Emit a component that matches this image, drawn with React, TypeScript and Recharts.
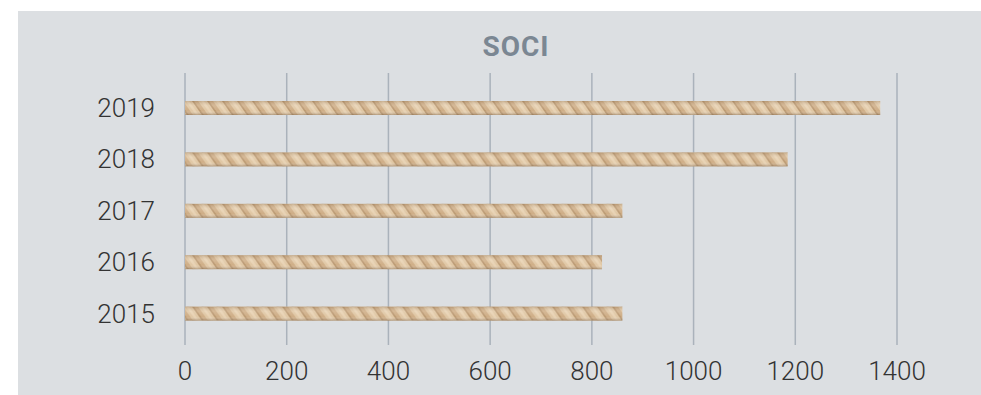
import { BarChart, Bar, XAxis, YAxis, CartesianGrid } from 'recharts'

const years = ['2015', '2016', '2017', '2018', '2019']
const soci = [860, 820, 860, 1185, 1367]
const xTicks = [0, 200, 400, 600, 800, 1000, 1200, 1400]
const title = 'SOCI'

const data = years.map((y, i) => ({ year: y, soci: soci[i] }))

// rope-like fill: soft diagonal strands + vertical shading
function RopeBar(props: any) {
  const { x, y, width, height, index } = props
  if (!width || width <= 0) return null
  const id = `rope-${index}`
  const p = 15
  const s = 10
  const strands = [-p, 0, p].map((o) => (
    <g key={o}>
      <path d={`M${o - 2} 0 L${o + 7} 0 L${o + 7 + s} ${height} L${o - 2 + s} ${height} Z`} fill="#e0c7a4" />
      <path d={`M${o + 1} 0 L${o + 4} 0 L${o + 4 + s} ${height} L${o + 1 + s} ${height} Z`} fill="#ecd9bd" opacity={0.6} />
      <path d={`M${o + 7} 0 L${o + 9} 0 L${o + 9 + s} ${height} L${o + 7 + s} ${height} Z`} fill="#a9865f" opacity={0.55} />
    </g>
  ))
  return (
    <g>
      <defs>
        <pattern id={id} patternUnits="userSpaceOnUse" x={x} y={y} width={p} height={height}>
          <rect width={p} height={height} fill="#cfae87" />
          {strands}
        </pattern>
        <linearGradient id={`shade-${index}`} x1="0" y1="0" x2="0" y2="1">
          <stop offset="0%" stopColor="#7d5f3f" stopOpacity={0.3} />
          <stop offset="35%" stopColor="#ffffff" stopOpacity={0.12} />
          <stop offset="70%" stopColor="#ffffff" stopOpacity={0} />
          <stop offset="100%" stopColor="#6b5034" stopOpacity={0.45} />
        </linearGradient>
      </defs>
      <rect x={x} y={y} width={width} height={height} fill={`url(#${id})`} />
      <rect x={x} y={y} width={width} height={height} fill={`url(#shade-${index})`} />
    </g>
  )
}

export default function App() {
  const tickStyle = { fill: '#333333', fontSize: 26, fontWeight: 300, fontFamily: 'Roboto' }
  return (
    <div style={{ position: 'absolute', left: 0, top: 0, width: 981, height: 395, background: '#ffffff' }}>
      <div style={{ position: 'absolute', left: 18, top: 11, width: 963, height: 384, background: '#dcdfe2' }}>
        <BarChart
          width={963}
          height={384}
          data={data}
          layout="vertical"
          margin={{ top: 62, right: 84, left: 0, bottom: 20 }}
        >
          <CartesianGrid horizontal={false} stroke="#aab2bb" strokeWidth={1.5} />
          <XAxis
            type="number"
            domain={[0, 1400]}
            ticks={xTicks}
            axisLine={false}
            tickLine={false}
            tickSize={0}
            tickMargin={17}
            height={30}
            tick={tickStyle}
            interval={0}
          />
          <YAxis
            type="category"
            dataKey="year"
            reversed
            width={167}
            axisLine={false}
            tickLine={false}
            tickSize={0}
            tickMargin={30}
            padding={{ top: 9, bottom: 6 }}
            tick={tickStyle}
          />
          <Bar dataKey="soci" barSize={14} shape={RopeBar} isAnimationActive={false} />
        </BarChart>
      </div>
      <div
        style={{
          position: 'absolute',
          left: 416,
          top: 32,
          width: 200,
          textAlign: 'center',
          fontFamily: 'Roboto',
          fontWeight: 700,
          fontSize: 28,
          letterSpacing: 1,
          lineHeight: '30px',
          color: '#7b8793',
        }}
      >
        {title}
      </div>
    </div>
  )
}
